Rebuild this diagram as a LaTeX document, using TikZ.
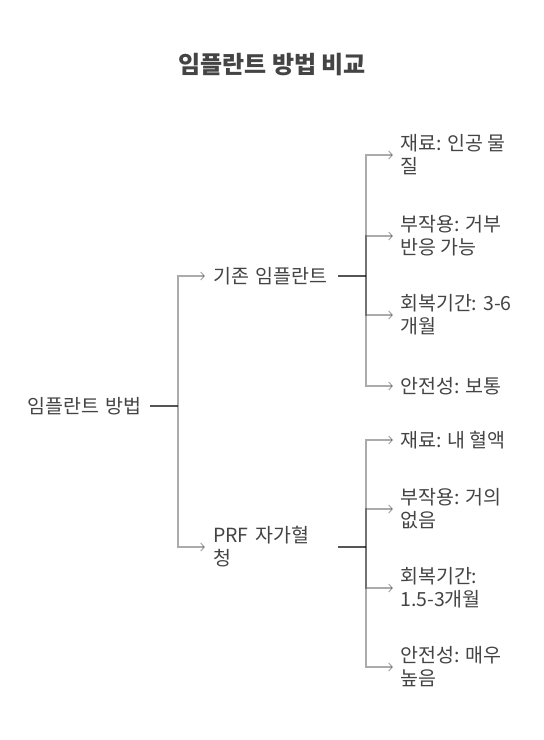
\documentclass[tikz,border=0pt]{standalone}
\usepackage{fontspec}
\setmainfont{Noto Sans CJK KR}
\usetikzlibrary{arrows.meta}
\definecolor{txt}{HTML}{444444}
\definecolor{stubc}{HTML}{555555}
\begin{document}
\begin{tikzpicture}[x=1pt,y=-1pt,
  lbl/.style={font=\fontsize{19.5}{23}\selectfont, text=txt, align=left, inner ysep=0pt},
  leaf/.style={lbl, anchor=west, inner xsep=7pt},
  mid/.style={lbl, anchor=west, inner xsep=8pt, text width=117pt},
  rootn/.style={lbl, anchor=west, inner xsep=4pt, text width=119pt},
  stubline/.style={draw=stubc, line width=1.8pt},
  conn/.style={draw=black, draw opacity=0.33, line width=1.3pt,
    -{Straight Barb[length=3.5pt,width=8pt,line width=1.1pt]}},
  ttl/.style={font=\fontsize{24}{28}\bfseries\selectfont, text=txt}
]
\fill[white] (0,0) rectangle (544,740);
\useasboundingbox (0,0) rectangle (544,740);

\node[ttl] (title) at (272,65) {임플란트 방법 비교};

\node[rootn] (root) at (23,406) {임플란트 방법};
\coordinate (j0) at (178,406);

\node[mid] (n1) at (205,276) {기존 임플란트};
\node[mid] (n2) at (205,547) {PRF 자가혈\\청};
\coordinate (j1) at (366,276);
\coordinate (j2) at (366,547);

\node[leaf] (a1) at (393,155) {재료: 인공 물\\질};
\node[leaf] (a2) at (393,236) {부작용: 거부\\반응 가능};
\node[leaf] (a3) at (393,315) {회복기간: 3-6\\개월};
\node[leaf] (a4) at (393,386) {안전성: 보통};

\node[leaf] (b1) at (393,440) {재료: 내 혈액};
\node[leaf] (b2) at (393,509) {부작용: 거의\\없음};
\node[leaf] (b3) at (393,588) {회복기간:\\1.5-3개월};
\node[leaf] (b4) at (393,667) {안전성: 매우\\높음};

\draw[stubline] (root.east) -- (j0);
\draw[stubline] (n1.east) -- (j1);
\draw[stubline] (n2.east) -- (j2);

\draw[conn] (j0) |- (n1.west);
\draw[conn] (j0) |- (n2.west);
\foreach \c in {a1,a2,a3,a4} \draw[conn] (j1) |- (\c.west);
\foreach \c in {b1,b2,b3,b4} \draw[conn] (j2) |- (\c.west);
\end{tikzpicture}
\end{document}
